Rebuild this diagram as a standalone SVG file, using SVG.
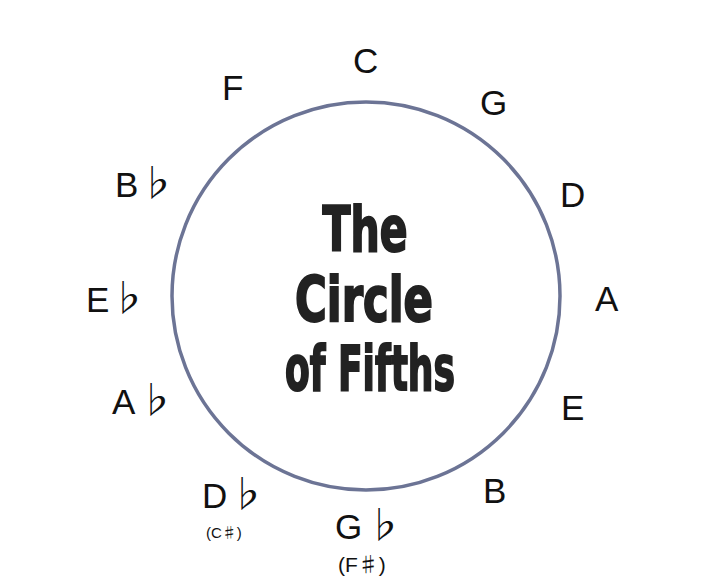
<svg xmlns="http://www.w3.org/2000/svg" width="720" height="586" viewBox="0 0 720 586">
<style>
.n{font-family:"Liberation Sans",Arial,sans-serif;font-size:35px;fill:#111;}
.f{font-family:"Noto Sans CJK JP","DejaVu Sans",sans-serif;font-size:37px;fill:#111;text-anchor:middle;}
.s{font-family:"Liberation Sans","Noto Sans CJK JP",sans-serif;font-size:15px;fill:#111;}
.s2{font-family:"Liberation Sans","Noto Sans CJK JP",sans-serif;font-size:21px;fill:#111;}
.j{font-family:"Noto Sans CJK JP",sans-serif;}
.t{font-family:"Liberation Sans Narrow","DejaVu Sans Condensed",sans-serif;font-weight:bold;font-size:63px;fill:#222;stroke:#222;stroke-width:2;text-anchor:middle;}
</style>
<rect width="720" height="586" fill="#fff"/>
<g id="circle">
<circle cx="366" cy="296" r="194" fill="none" stroke="#6c7495" stroke-width="3.5"/>
</g>
<g id="title">
<text class="t" x="365" y="251" textLength="85" lengthAdjust="spacingAndGlyphs">The</text>
<text class="t" x="364" y="321" textLength="138" lengthAdjust="spacingAndGlyphs">Circle</text>
<text class="t" x="370" y="390" textLength="170" lengthAdjust="spacingAndGlyphs">of Fifths</text>
</g>
<g id="note-C"><text class="n" x="353" y="73">C</text></g>
<g id="note-G"><text class="n" x="480" y="115">G</text></g>
<g id="note-D"><text class="n" x="560" y="207">D</text></g>
<g id="note-A"><text class="n" x="595" y="311">A</text></g>
<g id="note-E"><text class="n" x="561" y="420">E</text></g>
<g id="note-B"><text class="n" x="483" y="503">B</text></g>
<g id="note-Gb"><text class="n" x="335" y="539">G</text><text class="f" x="384" y="539">♭</text><text class="s2" x="338" y="572">(F<tspan class="j">♯</tspan>)</text></g>
<g id="note-Db"><text class="n" x="202" y="508">D</text><text class="f" x="247" y="508">♭</text><text class="s" x="206" y="538">(C<tspan class="j">♯</tspan>)</text></g>
<g id="note-Ab"><text class="n" x="112" y="414">A</text><text class="f" x="156" y="414">♭</text></g>
<g id="note-Eb"><text class="n" x="86" y="312">E</text><text class="f" x="128" y="312">♭</text></g>
<g id="note-Bb"><text class="n" x="115" y="197">B</text><text class="f" x="157" y="197">♭</text></g>
<g id="note-F"><text class="n" x="222" y="100">F</text></g>
</svg>
